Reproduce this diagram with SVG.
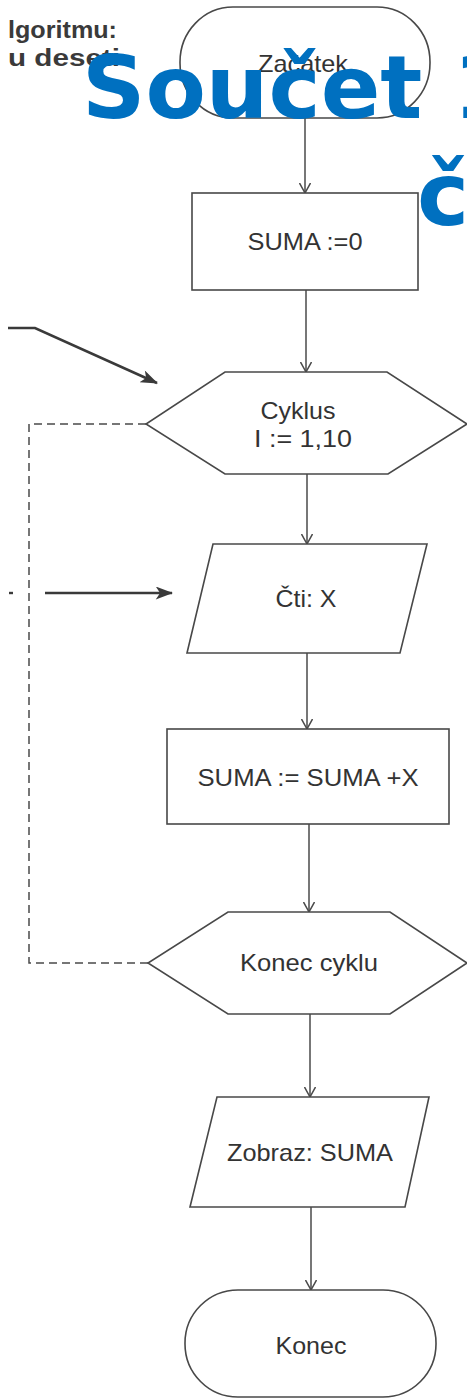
<svg xmlns="http://www.w3.org/2000/svg" width="467" height="1399" viewBox="0 0 467 1399">
  <style>
    .shape { fill: #ffffff; stroke: #484848; stroke-width: 1.6; }
    .flow { fill: none; stroke: #4a4a4a; stroke-width: 1.5; marker-end: url(#open); }
    .bold-arrow { fill: none; stroke: #3a3a3a; stroke-width: 2.6; marker-end: url(#barb); }
    .loop { fill: none; stroke: #4a4a4a; stroke-width: 1.5; stroke-dasharray: 8 5; }
    .label { font-family: "Liberation Sans", Arial, sans-serif; font-size: 24px; fill: #333333; text-anchor: middle; }
    .side { font-family: "Liberation Sans", Arial, sans-serif; font-weight: bold; font-size: 23px; fill: #3a3a3a; }
    .title { font-family: "DejaVu Sans", sans-serif; font-weight: bold; font-size: 88px; fill: #0070C0; }
  </style>
  <defs>
    <marker id="open" viewBox="0 0 10 12" refX="10" refY="6" markerWidth="10" markerHeight="12" markerUnits="userSpaceOnUse" orient="auto">
      <path d="M0,0.5 L10,6 L0,11.5" fill="none" stroke="#4a4a4a" stroke-width="1.5"/>
    </marker>
    <marker id="barb" viewBox="0 0 16 12" refX="15" refY="6" markerWidth="18" markerHeight="13" markerUnits="userSpaceOnUse" orient="auto">
      <path d="M0,0 L16,6 L0,12 L4,6 z" fill="#3a3a3a"/>
    </marker>
  </defs>

  <rect width="467" height="1399" fill="#ffffff"/>

  <!-- side text of the page -->
  <g id="side-text">
    <text class="side" x="8" y="38" textLength="109" lengthAdjust="spacingAndGlyphs">lgoritmu:</text>
    <text class="side" x="8" y="66" textLength="112" lengthAdjust="spacingAndGlyphs">u deseti</text>
  </g>

  <!-- connectors -->
  <g id="connectors">
    <line class="flow" x1="305" y1="118" x2="305" y2="193"/>
    <line class="flow" x1="306" y1="290" x2="306" y2="372"/>
    <line class="flow" x1="307" y1="474" x2="307" y2="544"/>
    <line class="flow" x1="307" y1="653" x2="307" y2="729"/>
    <line class="flow" x1="309" y1="824" x2="309" y2="912"/>
    <line class="flow" x1="310" y1="1014" x2="310" y2="1097"/>
    <line class="flow" x1="311" y1="1207" x2="311" y2="1290"/>
    <polyline class="loop" points="146,424 29,424 29,963 148,963"/>
    <polyline class="bold-arrow" points="8,328 35,328 157,383"/>
    <line class="bold-arrow" x1="45" y1="593" x2="172" y2="593"/>
    <line x1="9" y1="593" x2="13" y2="593" stroke="#3a3a3a" stroke-width="2.4"/>
  </g>

  <g id="start">
    <rect class="shape" x="180" y="7" width="250" height="111" rx="53" ry="55"/>
    <text class="label" x="303" y="72" textLength="90" lengthAdjust="spacingAndGlyphs">Začátek</text>
  </g>

  <g id="init">
    <rect class="shape" x="192" y="193" width="226" height="97"/>
    <text class="label" x="305" y="250" textLength="115" lengthAdjust="spacingAndGlyphs">SUMA :=0</text>
  </g>

  <g id="loop-start">
    <polygon class="shape" points="225,372 387,372 467,424 388,474 225,474 146,424"/>
    <text class="label" x="298" y="419" textLength="75" lengthAdjust="spacingAndGlyphs">Cyklus</text>
    <text class="label" x="303" y="447" textLength="98" lengthAdjust="spacingAndGlyphs">I := 1,10</text>
  </g>

  <g id="read">
    <polygon class="shape" points="213,544 427,544 400,653 187,653"/>
    <text class="label" x="306" y="607" textLength="61" lengthAdjust="spacingAndGlyphs">Čti: X</text>
  </g>

  <g id="add">
    <rect class="shape" x="167" y="729" width="282" height="95"/>
    <text class="label" x="308" y="786" textLength="221" lengthAdjust="spacingAndGlyphs">SUMA := SUMA +X</text>
  </g>

  <g id="loop-end">
    <polygon class="shape" points="228,912 390,912 467,963 390,1014 228,1014 148,963"/>
    <text class="label" x="309" y="971" textLength="138" lengthAdjust="spacingAndGlyphs">Konec cyklu</text>
  </g>

  <g id="show">
    <polygon class="shape" points="217,1097 429,1097 405,1207 190,1207"/>
    <text class="label" x="310" y="1161" textLength="166" lengthAdjust="spacingAndGlyphs">Zobraz: SUMA</text>
  </g>

  <g id="end">
    <rect class="shape" x="185" y="1290" width="251" height="107" rx="53" ry="53"/>
    <text class="label" x="311" y="1354" textLength="71" lengthAdjust="spacingAndGlyphs">Konec</text>
  </g>

  <!-- heading laid over the chart -->
  <g id="heading">
    <text class="title" x="82" y="118">Součet 1</text>
    <text class="title" x="417" y="225">č</text>
  </g>
</svg>
